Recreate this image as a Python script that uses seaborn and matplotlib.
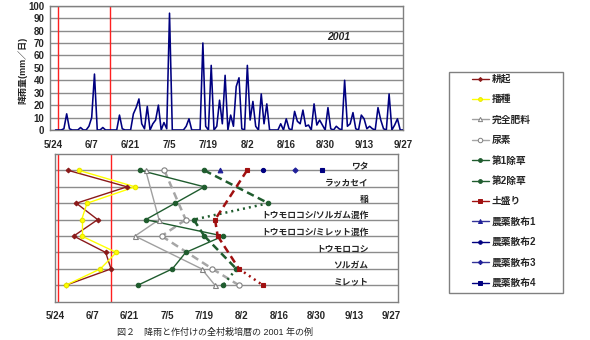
import numpy as np
import pandas as pd
import matplotlib
matplotlib.use("Agg")
import matplotlib.pyplot as plt
import seaborn as sns
from matplotlib.lines import Line2D
from matplotlib.patches import Rectangle

# ---------------- data ----------------
year = 2001
origin = "5/24"
rain_start = "5/25"
rain_mm = [0, 0, 0, 1, 13, 1, 0, 0, 0, 2, 0, 0, 3, 10, 45, 0, 0, 2, 0, 0,
           0, 0, 0, 12, 1, 0, 0, 0, 13, 18, 25, 5, 1, 19, 0, 5, 8, 20, 0, 6,
           1, 94, 0, 0, 0, 0, 0, 3, 9, 0, 0, 0, 0, 70, 3, 0, 52, 0, 3, 24,
           5, 44, 0, 12, 3, 35, 42, 1, 0, 52, 8, 23, 3, 0, 29, 5, 21, 0, 0, 0,
           0, 5, 0, 9, 1, 0, 15, 7, 5, 16, 3, 4, 0, 21, 4, 8, 4, 0, 18, 1,
           0, 3, 1, 0, 40, 3, 5, 14, 1, 0, 12, 9, 1, 3, 1, 0, 18, 8, 1, 0,
           29, 0, 4, 9, 0, 0]
tick_labels = ["5/24", "6/7", "6/21", "7/5", "7/19", "8/2", "8/16", "8/30", "9/13", "9/27"]
season_lines_top = [2.0, 20.6]      # days after 5/24
season_lines_bottom = [1.2, 21.0]
year_label = "2001"

crops = ["ワタ", "ラッカセイ", "稲", "トウモロコシ/ソルガム混作", "トウモロコシ/ミレット混作",
         "トウモロコシ", "ソルガム", "ミレット"]

tillage = ["5/29", "6/20", "6/1", "6/9", "5/31", "6/12", "6/14", "5/28"]
sowing = ["6/2", "6/23", "6/5", "6/3", "6/3", "6/16", "6/10", "5/28"]
compound_fert = ["6/27", None, None, "7/2", "6/23", None, "7/18", "7/23"]
urea = ["7/4", None, None, "7/12", "7/3", None, "7/22", "8/1"]
weeding1 = ["6/25", "7/19", "7/8", "6/27", "7/26", "7/12", "7/7", "6/24"]
weeding2 = ["7/19", None, "8/12", "7/15", "7/19", None, "7/31", "7/26"]
earthing = ["8/4", None, None, "7/23", "7/24", None, "8/1", "8/10"]
spray1 = ["7/25", None, None, None, None, None, None, None]
spray2 = ["8/10", None, None, None, None, None, None, None]
spray3 = ["8/22", None, None, None, None, None, None, None]
spray4 = ["9/1", None, None, None, None, None, None, None]

series_names = ["耕起", "播種", "完全肥料", "尿素", "第1除草", "第2除草", "土盛り",
                "農薬散布1", "農薬散布2", "農薬散布3", "農薬散布4"]
series_data = [tillage, sowing, compound_fert, urea, weeding1, weeding2, earthing,
               spray1, spray2, spray3, spray4]

# ---------------- styles ----------------
sns.set_style("white")
plt.rcParams["font.family"] = ["Liberation Sans", "Noto Sans CJK JP", "DejaVu Sans"]
plt.rcParams["axes.unicode_minus"] = False

styles = {
    "耕起": dict(color="#8b1a1a", marker="D", ms=2.4, mfc="#8b1a1a", mec="#8b1a1a", lw=1.0, seg=["-"]),
    "播種": dict(color="#ffff00", marker="o", ms=3.2, mfc="#ffff00", mec="#e6e600", lw=1.0, seg=["-"]),
    "完全肥料": dict(color="#a0a0a0", marker="^", ms=3.6, mfc="white", mec="#808080", lw=1.0, seg=["-"]),
    "尿素": dict(color="#a6a6a6", marker="o", ms=3.8, mfc="white", mec="#808080", lw=1.8, seg=["--"]),
    "第1除草": dict(color="#1f5c2e", marker="o", ms=3.2, mfc="#1f5c2e", mec="#1f5c2e", lw=1.0, seg=["-"]),
    "第2除草": dict(color="#1f5c2e", marker="o", ms=3.2, mfc="#1f5c2e", mec="#1f5c2e", lw=1.8,
                 seg=["--", ":", "--", "--", ":"]),
    "土盛り": dict(color="#a01010", marker="s", ms=3.0, mfc="#a01010", mec="#a01010", lw=1.8,
                 seg=["--", "--", "--", ":"]),
    "農薬散布1": dict(color="#333399", marker="^", ms=3.4, mfc="#1f1f99", mec="#1f1f99", lw=1.0, seg=["-"]),
    "農薬散布2": dict(color="#000080", marker="o", ms=3.0, mfc="#000080", mec="#000080", lw=1.0, seg=["-"]),
    "農薬散布3": dict(color="#333399", marker="D", ms=2.6, mfc="#1f1f99", mec="#1f1f99", lw=1.0, seg=["-"]),
    "農薬散布4": dict(color="#000080", marker="s", ms=3.0, mfc="#000080", mec="#000080", lw=1.0, seg=["-"]),
}
dash_map = {"-": "-", "--": (0, (3.0, 1.8)), ":": (0, (0.8, 1.6))}

grid_c = "#8c8c8c"
spine_c = "#808080"
tick_font = dict(fontsize=7, fontweight="bold")


def to_day(s):
    return (pd.Timestamp(f"{year}/{s}") - pd.Timestamp(f"{year}/{origin}")).days


tick_days = [to_day(t) for t in tick_labels]

W, H = 590, 340
fig = plt.figure(figsize=(W / 100, H / 100), dpi=100)
ax1 = fig.add_axes([50 / W, 1 - 130 / H, 353 / W, 124.3 / H])
ax2 = fig.add_axes([55 / W, 1 - 301.7 / H, 343 / W, 147.7 / H])

# ---------------- top: rainfall ----------------
first = to_day(rain_start)
rain_df = pd.DataFrame({"day": np.arange(first, first + len(rain_mm)), "mm": rain_mm})
for d in season_lines_top:
    ax1.axvline(d, color="#ff2020", lw=1.0, zorder=1)
sns.lineplot(data=rain_df, x="day", y="mm", ax=ax1, color="#000080", lw=1.15, legend=False, zorder=3)
ax1.set_xlim(-1, 126)
ax1.set_ylim(0, 100)
ax1.set_yticks(np.arange(0, 101, 10))
ax1.set_xticks(tick_days)
ax1.set_xticklabels(tick_labels, **tick_font)
ax1.set_yticklabels([str(v) for v in range(0, 101, 10)], **tick_font)
ax1.grid(axis="y", color=grid_c, lw=1.0)
ax1.grid(axis="x", visible=False)
ax1.set_axisbelow(True)
ax1.set_xlabel("")
ax1.set_ylabel("降雨量(mm／日)", fontsize=6.5, fontweight="bold")
ax1.yaxis.set_label_coords((27 - 50) / 353, 0.48)
ax1.tick_params(axis="both", length=2, width=0.8, color=spine_c, pad=2)
ax1.tick_params(axis="x", pad=5)
for sp in ax1.spines.values():
    sp.set_color(spine_c)
    sp.set_linewidth(1.0)
ax1.text(103, 75, year_label, fontsize=7.5, fontweight="bold", style="italic", ha="center", va="center")

# ---------------- bottom: calendar ----------------
rows = np.arange(1, len(crops) + 1)
for d in season_lines_bottom:
    ax2.axvline(d, color="#ff2020", lw=1.0, zorder=1)
for name, vals in zip(series_names, series_data):
    st = styles[name]
    pts = [(to_day(v), r) for v, r in zip(vals, rows) if v is not None]
    xs = [p[0] for p in pts]
    ys = [p[1] for p in pts]
    for i in range(len(pts) - 1):
        ls = st["seg"][i] if i < len(st["seg"]) else st["seg"][-1]
        ax2.plot(xs[i:i + 2], ys[i:i + 2], color=st["color"], lw=st["lw"],
                 linestyle=dash_map[ls], zorder=3, solid_capstyle="butt", dash_capstyle="butt")
    ax2.plot(xs, ys, linestyle="none", marker=st["marker"], ms=st["ms"], mfc=st["mfc"],
             mec=st["mec"], mew=0.8, zorder=4)

ax2.set_ylim(len(crops) + 1, 0)
ax2.set_xlim(0, 128.6)
ax2.set_yticks(rows)
ax2.set_yticklabels([])
ax2.tick_params(axis="y", length=0)
ax2.set_xticks(tick_days)
ax2.set_xticklabels(tick_labels, **tick_font)
ax2.tick_params(axis="x", direction="in", length=3, width=0.8, color=spine_c, pad=7)
ax2.grid(axis="y", color=grid_c, lw=1.0)
ax2.grid(axis="x", visible=False)
ax2.set_axisbelow(True)
for sp in ax2.spines.values():
    sp.set_color(spine_c)
    sp.set_linewidth(1.0)
for r, c in zip(rows, crops):
    ax2.text(117.6, r - 0.23, c, fontsize=6.3, fontweight="bold", ha="right", va="center", zorder=5)

# ---------------- legend ----------------
handles = [Line2D([], [], color=styles[n]["color"], lw=1.0, marker=styles[n]["marker"],
                  ms=styles[n]["ms"] * 0.85, mfc=styles[n]["mfc"], mec=styles[n]["mec"], mew=0.7)
           for n in series_names]
fig.patches.append(Rectangle((449 / W, 1 - 293 / H), 114 / W, 221 / H, transform=fig.transFigure,
                             fill=False, ec=spine_c, lw=1.0))
fig.legend(handles, series_names, loc="upper left", bbox_to_anchor=(472 / W, 1 - 74 / H),
           frameon=False, handlelength=1.7, handletextpad=0.35, labelspacing=1.07,
           borderpad=0, borderaxespad=0, prop={"size": 7, "weight": "bold"})

fig.text(215 / W, 1 - 332 / H, "図２　降雨と作付けの全村栽培暦の 2001 年の例", fontsize=6.5,
         ha="center", va="center")

fig.savefig("out.png", dpi=100)
